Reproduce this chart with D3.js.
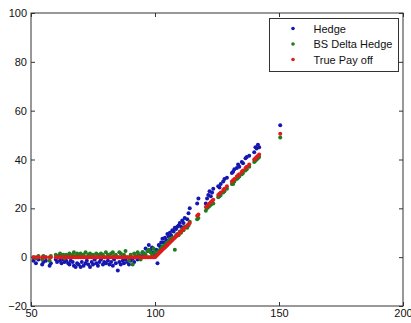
<!DOCTYPE html>
<html>
<head>
<meta charset="utf-8">
<script src="https://cdn.jsdelivr.net/npm/d3@7"></script>
<style>
body{margin:0;background:#fff;}
text{font-family:Arial,"Liberation Sans",sans-serif;}
</style>
</head>
<body>
<div class="canvas"></div>
<script>
// stock price at expiry (shared by all three series)
const price = [
51, 52, 53, 54.5, 55, 56, 57.5, 58,
60, 60.5, 61, 61.7, 62.3, 63, 63.5, 64.2, 65, 65.5, 66, 66.8, 67.3, 68, 68.6, 69.2,
70, 70.5, 71.2, 72, 72.5, 73.1, 73.8, 74.5, 75, 75.7, 76.3, 77, 77.6, 78.2, 79, 79.5,
80.2, 81, 81.6, 82.3, 83, 83.5, 84.2, 85, 85.6, 86.2, 87, 87.5, 88.1, 88.8, 89.5, 90.2,
91, 91.6, 92.3, 93, 93.5, 94.2, 95, 95.6, 96.2, 97, 97.5, 98.2, 98.8, 99.4, 100,
100.5, 101, 101.5, 102, 102.5, 103, 103.5, 104, 104.5, 105, 105.5, 106, 106.5, 107,
107.5, 108, 108.5, 109, 109.5, 110, 110.5, 111, 111.5, 112, 113, 113.5, 114,
117, 117.5, 120.5, 121, 121.5, 122, 122.5, 123, 123.5, 125.5, 126, 126.5, 127.5, 128, 129, 131,
131.5, 132, 133, 133.5, 134, 135, 135.5, 136.5, 137, 138, 140, 140.5, 141, 141.5, 142, 150.5
];
const hedge = [
-1.5, -2.5, -1, -3, -2, -1.5, -3.5, -2.5,
-1, -2, 0.5, -1.5, -2.5, -1, -2, -1.5, -2.5, -3, -1.5, -2, -3.5, -4, -2.5, -3,
-4, -2, -3.5, -2.5, -1.5, -3, -4, -2, -3, -1, -2.5, -3.5, -2, -1, -3, -2,
-2.5, -1.5, -3, -2, -3.5, -1, -2.5, -5.5, -2, -3, -1.5, -2.5, -1, -2, -3, -1.5,
-0.5, -2, 0, -1, 1, 0.5, 2, 1, 3.5, 2.5, 5, 3, 4, 2, 1,
3, -2.5, 5, 4.5, 6, 7.5, 6, 8, 7, 9.5, 8.5, 10, 9, 11,
10.5, 12, 11.5, 12.5, 13, 14, 12.5, 15, 14, 16, 15.5, 18, 20,
22, 24, 22, 24, 25.5, 27, 25, 26.5, 28, 29, 28.5, 30, 31, 32, 32.5, 34.5,
35, 36, 36.5, 38, 37, 39, 38.5, 40.5, 41, 41.5, 43, 45, 44.5, 46, 45, 54
];
const bsHedge = [
0, -0.5, 0.5, -1, 0.5, 0, -1.5, 0.5,
1, 0.5, 0, 1.5, 0.5, 1, -0.5, 1, 0.5, 1.5, 0, 1, 2, 0.5, 1.5, 1,
1.5, 0.5, 1, 2, 0, 1, 1.5, 0.5, 1, 0, 1.5, 1, 0.5, 1.5, 1, 0,
2, 1, 0.5, 1.5, 2, 0.5, 1, 0, 2, 1.5, 0.5, 1, 2.5, 0, -1.5, 1,
-3, 1.5, 0.5, 2, 1, -1, 2, 1.5, 1, 2.5, 3, 2, 1, 3.5, 2,
1.5, 2, 2.5, 3, 3.5, 4.5, 4, 5, 5.5, 6, 6.5, 7.5, 7, 8,
8, 3, 9, 9.5, 9, 10.5, 10, 11.5, 11, 12.5, 12, 13, 14.5,
15.5, 16, 19, 20, 20.5, 21, 21.5, 22, 22, 24.5, 25, 25.5, 26.5, 27, 28, 30,
30, 31, 32, 32.5, 33, 34, 34.5, 35.5, 36, 37, 39, 39.5, 40, 40.5, 41, 49
];
const payoff = [
0, 0, 0, 0, 0, 0, 0, 0,
0, 0, 0, 0, 0, 0, 0, 0, 0, 0, 0, 0, 0, 0, 0, 0,
0, 0, 0, 0, 0, 0, 0, 0, 0, 0, 0, 0, 0, 0, 0, 0,
0, 0, 0, 0, 0, 0, 0, 0, 0, 0, 0, 0, 0, 0, 0, 0,
0, 0, 0, 0, 0, 0, 0, 0, 0, 0, 0, 0, 0, 0, 0,
0.5, 1, 1.5, 2, 2.5, 3, 3.5, 4, 4.5, 5, 5.5, 6, 6.5, 7,
7.5, 8, 8.5, 9, 9.5, 10, 10.5, 11, 11.5, 12, 13, 13.5, 14,
17, 17.5, 20.5, 21, 21.5, 22, 22.5, 23, 23.5, 25.5, 26, 26.5, 27.5, 28, 29, 31,
31.5, 32, 33, 33.5, 34, 35, 35.5, 36.5, 37, 38, 40, 40.5, 41, 41.5, 42, 50.5
];
const seriesNames = ['Hedge', 'BS Delta Hedge', 'True Pay off'];
const xTicks = [50, 100, 150, 200];
const yTicks = [-20, 0, 20, 40, 60, 80, 100];

const colors = ['#1616b0', '#1d7d1d', '#dd1c1c'];
const allSeries = [hedge, bsHedge, payoff];

const svg = d3.select('.canvas')
.append('svg')
    .attr('width', 411)
    .attr('height', 323);

const margin = {top:13, right:8, bottom:17, left:31};
const graphWidth = 411 - margin.left - margin.right;
const graphHeight = 323 - margin.top - margin.bottom;

const graph = svg.append('g')
.attr('transform', `translate(${margin.left},${margin.top})`);

//scales
const x = d3.scaleLinear().domain([50, 200]).range([0, graphWidth]);
const y = d3.scaleLinear().domain([-20, 100]).range([graphHeight, 0]);

//axes, matlab style ticks pointing in
const xAxis = d3.axisBottom(x).tickValues(xTicks).tickSizeInner(-4).tickSizeOuter(0).tickPadding(3);
const yAxis = d3.axisLeft(y).tickValues(yTicks).tickSizeInner(-4).tickSizeOuter(0).tickPadding(4);
const xTop = d3.axisTop(x).tickValues(xTicks).tickSizeInner(-4).tickSizeOuter(0).tickFormat('');
const yRight = d3.axisRight(y).tickValues(yTicks).tickSizeInner(-4).tickSizeOuter(0).tickFormat('');

const xAxisGroup = graph.append('g')
.attr('transform', `translate(0,${graphHeight})`)
.call(xAxis);
graph.append('g').call(yAxis);
graph.append('g').call(xTop);
graph.append('g').attr('transform', `translate(${graphWidth},0)`).call(yRight);

graph.selectAll('.domain').remove();
graph.selectAll('.tick line').attr('stroke', '#333');
graph.selectAll('.tick text')
.attr('fill', '#111')
.style('font-size', '11px')
.style('font-family', 'Arial, "Liberation Sans", sans-serif');

//points, blue first then green then red on top
allSeries.forEach((vals, s) => {
    graph.append('g')
    .selectAll('circle')
    .data(price)
    .enter()
    .append('circle')
    .attr('cx', d => x(d))
    .attr('cy', (d, i) => y(vals[i]))
    .attr('r', 2)
    .attr('fill', colors[s]);
});

//box
graph.append('rect')
.attr('width', graphWidth)
.attr('height', graphHeight)
.attr('fill', 'none')
.attr('stroke', '#333')
.attr('stroke-width', 1);

//legend
const legend = svg.append('g').attr('transform', 'translate(269.5,18.5)');
legend.append('rect')
.attr('width', 129)
.attr('height', 53)
.attr('fill', '#fff')
.attr('stroke', '#333');
seriesNames.forEach((name, i) => {
    const row = legend.append('g').attr('transform', `translate(0,${10 + i * 15.5})`);
    row.append('circle')
    .attr('cx', 23.5)
    .attr('cy', 0)
    .attr('r', 1.8)
    .attr('fill', colors[i]);
    row.append('text')
    .attr('x', 44)
    .attr('y', 4)
    .attr('fill', '#111')
    .style('font-size', '11px')
    .text(name);
});
</script>
</body>
</html>
